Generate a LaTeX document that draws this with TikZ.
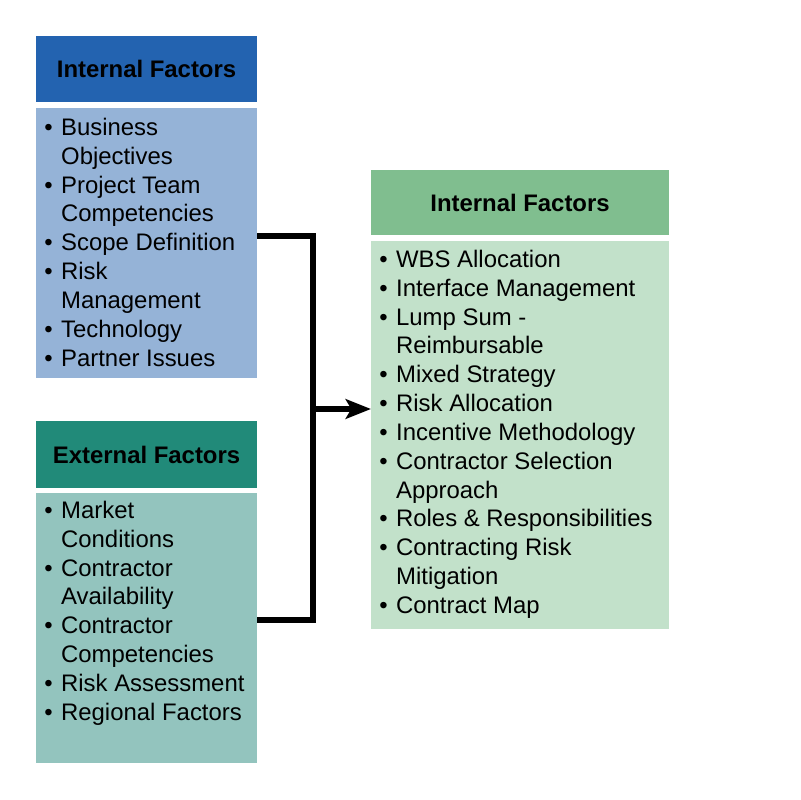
\documentclass[tikz,border=0pt]{standalone}
\usepackage{fontspec}
\setmainfont{Liberation Sans}
\usetikzlibrary{arrows.meta}

\definecolor{inhead}{RGB}{35,99,176}
\definecolor{inbody}{RGB}{149,179,215}
\definecolor{exhead}{RGB}{33,138,121}
\definecolor{exbody}{RGB}{147,196,190}
\definecolor{cshead}{RGB}{128,190,143}
\definecolor{csbody}{RGB}{194,225,202}

\tikzset{
    panel/.style={anchor=north west, inner sep=0pt, outer sep=0pt},
    headtext/.style={font=\fontsize{17}{20.5}\selectfont\bfseries},
    listtext/.style={anchor=north west, inner sep=0pt, align=left,
        font=\fontsize{17}{20.5}\selectfont},
    link/.style={line width=3.8pt, line join=miter}
}

\begin{document}
\begin{tikzpicture}[x=0.025cm,y=-0.025cm]
            \useasboundingbox (0,0) rectangle (800,800);

            \node[panel, fill=inhead, minimum width=5.525cm, minimum height=1.65cm] (inh) at (36,36) {};
            \node[headtext] at (inh.center) {Internal Factors};
            \node[panel, fill=inbody, minimum width=5.525cm, minimum height=6.75cm] (inb) at (36,108) {};
            \node[listtext] (inl) at (44,115) {\begin{tabular}{@{}p{12pt}@{}l@{}}
                \textbullet & Business\\ & Objectives\\
                \textbullet & Project Team\\ & Competencies\\
                \textbullet & Scope Definition\\
                \textbullet & Risk\\ & Management\\
                \textbullet & Technology\\
                \textbullet & Partner Issues
            \end{tabular}};

            \node[panel, fill=exhead, minimum width=5.525cm, minimum height=1.675cm] (exh) at (36,421) {};
            \node[headtext] at (exh.center) {External Factors};
            \node[panel, fill=exbody, minimum width=5.525cm, minimum height=6.75cm] (exb) at (36,493) {};
            \node[listtext] (exl) at (44,498) {\begin{tabular}{@{}p{12pt}@{}l@{}}
                \textbullet & Market\\ & Conditions\\
                \textbullet & Contractor\\ & Availability\\
                \textbullet & Contractor\\ & Competencies\\
                \textbullet & Risk Assessment\\
                \textbullet & Regional Factors
            \end{tabular}};

            \node[panel, fill=cshead, minimum width=7.45cm, minimum height=1.625cm] (csh) at (371,170) {};
            \node[headtext] at (csh.center) {Internal Factors};
            \node[panel, fill=csbody, minimum width=7.45cm, minimum height=9.7cm] (csb) at (371,241) {};
            \node[listtext] (csl) at (379,247) {\begin{tabular}{@{}p{12pt}@{}l@{}}
                \textbullet & WBS Allocation\\
                \textbullet & Interface Management\\
                \textbullet & Lump Sum -\\ & Reimbursable\\
                \textbullet & Mixed Strategy\\
                \textbullet & Risk Allocation\\
                \textbullet & Incentive Methodology\\
                \textbullet & Contractor Selection\\ & Approach\\
                \textbullet & Roles \& Responsibilities\\
                \textbullet & Contracting Risk\\ & Mitigation\\
                \textbullet & Contract Map
            \end{tabular}};

            \coordinate (top) at (313,236);
            \coordinate (bot) at (313,620);
            \coordinate (mid) at (313,409);

            \draw[link] (inb.east |- top) -- (top) -- (bot) -- (exb.east |- bot);
            \draw[link, -{Stealth[length=18pt, width=14pt, inset=4pt]}] (mid) -- (csb.west |- mid);
        \end{tikzpicture}
\end{document}
